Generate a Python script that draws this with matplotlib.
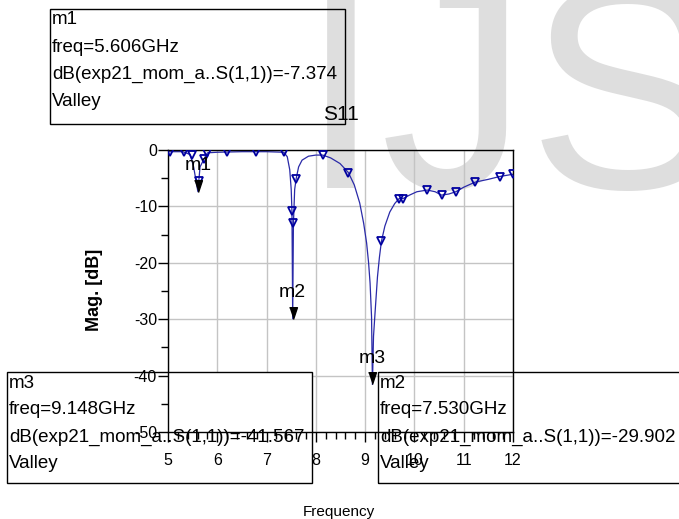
import matplotlib
matplotlib.use("Agg")
import matplotlib.pyplot as plt
from matplotlib import font_manager
from matplotlib.patches import Rectangle
from matplotlib.ticker import MultipleLocator

# Datos (freq en GHz, magnitud en dB)
freq = [5.00, 5.30, 5.45, 5.52, 5.606, 5.65, 5.73, 5.80, 6.00, 6.50, 7.00, 7.35,
        7.42, 7.47, 7.50, 7.515, 7.53, 7.545, 7.57, 7.60, 7.65, 7.72, 7.85, 8.00,
        8.14, 8.30, 8.49, 8.66, 8.78, 8.89, 8.97, 9.03, 9.07, 9.10, 9.13, 9.148,
        9.17, 9.20, 9.25, 9.29, 9.33, 9.40, 9.50, 9.60, 9.69, 9.77, 9.90, 10.05,
        10.26, 10.42, 10.55, 10.70, 10.84, 11.00, 11.23, 11.50, 11.73, 12.00]
mag = [-0.3, -0.3, -0.8, -3.0, -7.374, -3.0, -1.6, -0.5, -0.4, -0.3, -0.3, -0.4,
       -1.2, -3.5, -7.0, -10.9, -29.902, -13.0, -7.0, -5.1, -3.0, -1.8, -1.1, -0.9,
       -0.9, -1.4, -2.4, -4.0, -6.2, -9.4, -13.0, -16.5, -20.0, -23.6, -29.6, -41.567,
       -33.0, -29.0, -22.5, -19.0, -16.2, -13.5, -11.0, -9.5, -8.6, -8.6, -8.0, -7.4,
       -7.1, -7.4, -8.0, -7.8, -7.4, -6.6, -5.7, -5.2, -4.7, -4.3]

# Puntos simulados (triángulos abiertos)
pts_freq = [5.04, 5.32, 5.48, 5.62, 5.73, 5.80, 6.20, 6.78, 7.35, 7.515, 7.545, 7.60,
            8.14, 8.66, 9.33, 9.69, 9.77, 10.26, 10.55, 10.84, 11.23, 11.73, 12.00]
pts_mag = [-0.3, -0.3, -0.8, -5.5, -1.6, -0.5, -0.4, -0.3, -0.4, -10.9, -13.0, -5.1,
           -0.9, -4.0, -16.2, -8.6, -8.6, -7.1, -7.9, -7.4, -5.7, -4.7, -4.3]

# Marcadores m1..m3
mk_names = ["m1", "m2", "m3"]
mk_freq = [5.606, 7.530, 9.148]
mk_mag = [-7.374, -29.902, -41.567]

x_ticks = [5, 6, 7, 8, 9, 10, 11, 12]
y_ticks = [0, -10, -20, -30, -40, -50]

W, H = 679, 519


def pick_font(names):
    avail = {f.name for f in font_manager.fontManager.ttflist}
    for n in names:
        if n in avail:
            return n
    return "DejaVu Sans"


REG = pick_font(["Liberation Sans", "Arial"])
plt.rcParams['axes.unicode_minus'] = False


def fx(px):
    return px / W


def fy(py):
    return 1 - py / H


fig = plt.figure(figsize=(W / 100, H / 100), dpi=100)
ax = fig.add_axes([fx(168), fy(432), (513 - 168) / W, (432 - 150) / H])
ax.set_facecolor("none")

# marca de agua gris
fig.text(fx(300), fy(188), "IJS", fontsize=212, family=REG, color="#dedede",
         ha="left", va="baseline", zorder=-1)

# rejilla manual (para que la caja m3 la tape)
ax.vlines(x_ticks, -50, 0, colors="#c4c4c4", linewidth=1, zorder=0.3)
ax.hlines(y_ticks, 5, 12, colors="#c4c4c4", linewidth=1, zorder=0.3)

ax.plot(freq, mag, color="#2a2aa8", linewidth=0.9, zorder=2)
ax.plot(pts_freq, pts_mag, linestyle="none", marker="v", markersize=6,
        markerfacecolor="none", markeredgecolor="#0000a0", markeredgewidth=1.3, zorder=3)

tri = [(-4, 12), (4, 12), (0, 0)]
for name, f, m in zip(mk_names, mk_freq, mk_mag):
    ax.plot([f], [m], linestyle="none", marker=tri, markersize=17, color="black", zorder=4)
    ax.annotate(name, (f, m), xytext=(0, 26), textcoords="offset pixels",
                ha="center", va="center", fontsize=14, family=REG, zorder=4)

ax.set_xlim(5, 12)
ax.set_ylim(-50, 0)
ax.set_xticks(x_ticks)
ax.set_yticks(y_ticks)
ax.xaxis.set_minor_locator(MultipleLocator(0.2))
ax.yaxis.set_minor_locator(MultipleLocator(5))
ax.tick_params(which="major", length=7, width=1, direction="out", labelsize=11.5)
ax.tick_params(axis="x", which="major", pad=8)
ax.tick_params(axis="y", which="major", pad=1)
ax.tick_params(which="minor", length=5, width=1, direction="out")
for lbl in ax.get_xticklabels() + ax.get_yticklabels():
    lbl.set_family(REG)
for sp in ax.spines.values():
    sp.set_linewidth(1)

ax.set_xlabel("Frequency", fontsize=11, family=REG)
ax.xaxis.set_label_coords((339 - 168) / 345, -(505 - 432) / 282)
ax.set_ylabel("Mag. [dB]", fontsize=13, family=REG, fontweight="bold")
ax.yaxis.set_label_coords((103 - 168) / 345, 0.504)
ax.text((341 - 168) / 345, 1 + (150 - 114) / 282, "S11", transform=ax.transAxes,
        ha="center", va="center", fontsize=15, family=REG)

# cajas de los marcadores: (izq, arriba, der, abajo) en px
boxes = [
    (50, 9, 345, 124, ["m1", "freq=5.606GHz", "dB(exp21_mom_a..S(1,1))=-7.374", "Valley"], False),
    (7, 372, 312, 483, ["m3", "freq=9.148GHz", "dB(exp21_mom_a..S(1,1))=-41.567", "Valley"], True),
    (378, 372, 700, 483, ["m2", "freq=7.530GHz", "dB(exp21_mom_a..S(1,1))=-29.902", "Valley"], False),
]
line_off = [11, 38, 65, 92]
for (l, t, r, b, lines, filled) in boxes:
    if filled:
        rect = Rectangle((fx(l), fy(b)), (r - l) / W, (b - t) / H, transform=fig.transFigure,
                         facecolor="white", edgecolor="black", linewidth=1,
                         clip_on=False, zorder=0.6)
        ax.add_patch(rect)
        for off, s in zip(line_off, lines):
            ax.text(fx(l + 2), fy(t + off), s, transform=fig.transFigure, ha="left",
                    va="center", fontsize=13.5, family=REG, zorder=0.7, clip_on=False)
    else:
        rect = Rectangle((fx(l), fy(b)), (r - l) / W, (b - t) / H, transform=fig.transFigure,
                         facecolor="none", edgecolor="black", linewidth=1)
        fig.add_artist(rect)
        for off, s in zip(line_off, lines):
            fig.text(fx(l + 2), fy(t + off), s, ha="left", va="center",
                     fontsize=13.5, family=REG)

fig.savefig("out.png", dpi=100)
